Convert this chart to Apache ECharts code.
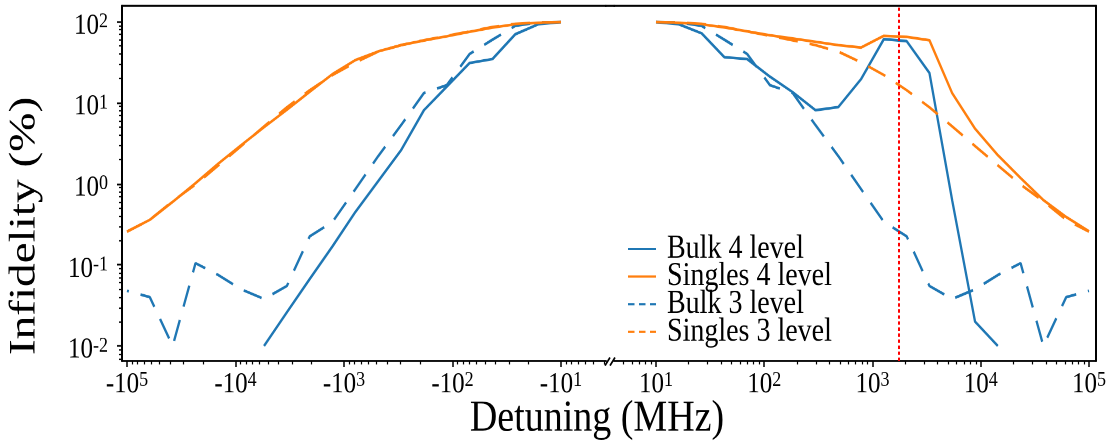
<!DOCTYPE html>
<html>
<head>
<meta charset="utf-8">
<script src="https://cdn.jsdelivr.net/npm/echarts@6.0.0/dist/echarts.min.js"></script>
<style>
  html, body { margin: 0; padding: 0; background: #fff; }
  #frame { width: 1112px; height: 448px; overflow: hidden; }
  /* the figure is laid out at 386px high and stretched to the full 448px */
  #chart { width: 1112px; height: 386px; transform: scaleY(1.16062); transform-origin: 0 0; }
</style>
</head>
<body>
<div id="frame"><div id="chart"></div></div>
<script>
// |detuning| in MHz, shared by the negative and the positive half
const detuningAbsMHz = [10, 16.24, 26.37, 42.81, 69.52, 112.9, 183.3, 297.6, 483.3, 784.8,
                        1274, 2069, 3360, 5456, 8859, 14384, 23357, 37927, 61585, 100000];

// infidelity in %, null where it rounds to zero
const bulk4Neg    = [99, 93, 70, 34.6, 31, 15.8, 8.1, 2.6, 1.08, 0.45, 0.17, 0.067, 0.026, 0.01,
                     null, null, null, null, null, null];
const bulk4Pos    = [99, 93, 72, 36.5, 34.6, 21, 13.5, 8.1, 8.85, 19.6, 61, 57.6, 23.3, 0.62,
                     0.02, 0.01, null, null, null, null];
const singles4Neg = [99, 97, 93, 84.6, 75, 66, 58.6, 51.5, 43, 33.6, 22.6, 13.7, 8.2, 5.0,
                     3.0, 1.78, 1.02, 0.6, 0.36, 0.257];
const singles4Pos = [99, 97, 93, 85, 76, 68, 62, 56.5, 51.4, 48, 67, 65, 59, 13.1,
                     4.8, 2.26, 1.18, 0.63, 0.39, 0.26];
// the 3-level results are symmetric in detuning
const bulk3       = [99, 98, 89, 60, 40, 16.5, 13.2, 5.3, 2.2, 0.86, 0.34, 0.225, 0.055, 0.038,
                     0.05, 0.075, 0.105, 0.01, 0.04, 0.048];
const singles3    = [99, 98, 94, 86, 76, 67, 59, 51.4, 42.8, 31.5, 22, 14.3, 8.8, 5.1,
                     2.93, 1.69, 0.98, 0.61, 0.36, 0.257];

const markerMHz = 1760;                         // red dotted reference detuning
const xTickMHz  = [10, 100, 1000, 10000, 100000];
const yTickPct  = [0.01, 0.1, 1, 10, 100];
const seriesNames = ['Bulk 4 level', 'Singles 4 level', 'Bulk 3 level', 'Singles 3 level'];

const FONT = "'Liberation Serif', 'Times New Roman', Times, serif";
const BLUE = '#1f77b4', ORANGE = '#ff7f0e';
const DASH = [19, 12];

const X_LEFT  = [Math.pow(10, 0.585), Math.pow(10, 5.046)];
const X_RIGHT = [Math.pow(10, 0.612), Math.pow(10, 5.065)];
const Y_EXT   = [Math.pow(10, -2.185), Math.pow(10, 2.196)];

function minorValues(ext, eLo, eHi) {
  const out = [];
  for (let e = eLo; e <= eHi; e++) {
    for (let m = 2; m <= 9; m++) {
      const v = m * Math.pow(10, e);
      if (v >= ext[0] && v <= ext[1]) out.push(v);
    }
  }
  return out;
}

const rich = {
  b: { fontFamily: FONT, fontSize: 25, lineHeight: 25, color: '#000' },
  s: { fontFamily: FONT, fontSize: 18, lineHeight: 17, verticalAlign: 'top', color: '#000' }
};
const powLabel = prefix => v => '{b|' + prefix + '10}{s|' + Math.round(Math.log10(v)) + '}';

function pairs(values) {
  const out = [];
  values.forEach((v, i) => { if (v !== null) out.push([detuningAbsMHz[i], v]); });
  return out;
}

function xAxes(gridIndex, ext, inverse, prefix) {
  const base = { type: 'log', logBase: 10, gridIndex, min: ext[0], max: ext[1], inverse,
                 splitLine: { show: false }, axisLine: { onZero: false } };
  return [
    Object.assign({}, base, {
      position: 'bottom',
      axisLine: { show: true, onZero: false, lineStyle: { color: '#000', width: 1.8 } },
      axisTick: { show: true, length: 5, customValues: xTickMHz, lineStyle: { color: '#000', width: 1.5 } },
      axisLabel: { show: true, customValues: xTickMHz, margin: 8, formatter: powLabel(prefix), rich }
    }),
    Object.assign({}, base, {
      position: 'bottom',
      axisLine: { show: false, onZero: false },
      axisTick: { show: true, length: 3, customValues: minorValues(ext, 0, 5), lineStyle: { color: '#000', width: 1.2 } },
      axisLabel: { show: false }
    }),
    Object.assign({}, base, {
      position: 'top',
      axisLine: { show: true, onZero: false, lineStyle: { color: '#000', width: 1.8 } },
      axisTick: { show: false }, axisLabel: { show: false }
    })
  ];
}

const yBase = { type: 'log', logBase: 10, min: Y_EXT[0], max: Y_EXT[1], splitLine: { show: false } };
const yAxes = [
  Object.assign({}, yBase, {
    gridIndex: 0, position: 'left',
    axisLine: { show: true, onZero: false, lineStyle: { color: '#000', width: 2 } },
    axisTick: { show: true, length: 5, customValues: yTickPct, lineStyle: { color: '#000', width: 1.5 } },
    axisLabel: { show: true, customValues: yTickPct, margin: 14, padding: [7, 0, 0, 0],
                 formatter: powLabel(''), rich }
  }),
  Object.assign({}, yBase, {
    gridIndex: 0, position: 'left',
    axisLine: { show: false, onZero: false },
    axisTick: { show: true, length: 3, customValues: minorValues(Y_EXT, -3, 2), lineStyle: { color: '#000', width: 1.2 } },
    axisLabel: { show: false }
  }),
  Object.assign({}, yBase, {
    gridIndex: 1, position: 'right',
    axisLine: { show: true, onZero: false, lineStyle: { color: '#000', width: 2 } },
    axisTick: { show: false }, axisLabel: { show: false }
  })
];

function lineSeries(name, values, color, dashed, xAxisIndex, yAxisIndex, extra) {
  return Object.assign({
    name, type: 'line', xAxisIndex, yAxisIndex, data: pairs(values),
    symbol: 'none', silent: true, animation: false,
    lineStyle: { color, width: 2.3, type: dashed ? DASH : 'solid', cap: 'butt' },
    itemStyle: { color }
  }, extra || {});
}

const series = [
  // negative detuning panel
  lineSeries(seriesNames[0], bulk4Neg, BLUE, false, 0, 0),
  lineSeries(seriesNames[1], singles4Neg, ORANGE, false, 0, 0),
  lineSeries(seriesNames[2], bulk3, BLUE, true, 0, 0),
  lineSeries(seriesNames[3], singles3, ORANGE, true, 0, 0),
  // positive detuning panel
  lineSeries(seriesNames[0], bulk4Pos, BLUE, false, 3, 2, {
    markLine: {
      silent: true, symbol: ['none', 'none'], label: { show: false }, animation: false,
      lineStyle: { color: '#ff0000', width: 2, type: [2.9, 2.3] },
      emphasis: { disabled: true },
      data: [{ xAxis: markerMHz }]
    }
  }),
  lineSeries(seriesNames[1], singles4Pos, ORANGE, false, 3, 2),
  lineSeries(seriesNames[2], bulk3, BLUE, true, 3, 2),
  lineSeries(seriesNames[3], singles3, ORANGE, true, 3, 2)
];

const chart = echarts.init(document.getElementById('chart'), null, { renderer: 'canvas', devicePixelRatio: 2 });
chart.setOption({
  animation: false,
  backgroundColor: '#fff',
  textStyle: { fontFamily: FONT, color: '#000' },
  grid: [
    { left: 122, top: 5, width: 484, height: 306, containLabel: false, outerBoundsMode: 'none' },
    { left: 614, top: 5, width: 482, height: 306, containLabel: false, outerBoundsMode: 'none' }
  ],
  xAxis: xAxes(0, X_LEFT, true, '-').concat(xAxes(1, X_RIGHT, false, '')),
  yAxis: yAxes,
  legend: {
    orient: 'vertical', left: 627, top: 200.5, padding: 0,
    itemWidth: 28, itemHeight: 2, itemGap: -4.2, selectedMode: false,
    itemStyle: { opacity: 0 },
    textStyle: { fontFamily: FONT, fontSize: 28, lineHeight: 24.2, color: '#000', padding: [0, 0, 0, 6] },
    data: [
      { name: seriesNames[0] },
      { name: seriesNames[1] },
      { name: seriesNames[2], lineStyle: { type: [6.5, 4.5] } },
      { name: seriesNames[3], lineStyle: { type: [6.5, 4.5] } }
    ]
  },
  graphic: [
    { type: 'text', x: 597, y: 361, silent: true,
      style: { text: 'Detuning (MHz)', fontFamily: FONT, fontSize: 38, fill: '#000',
               align: 'center', verticalAlign: 'middle' } },
    { type: 'text', x: 25, y: 194.7, rotation: Math.PI / 2, scaleX: 1.1, silent: true,
      style: { text: 'Infidelity (%)', fontFamily: FONT, fontSize: 37, fill: '#000',
               align: 'center', verticalAlign: 'middle' } },
    // top spine runs across the break
    { type: 'line', silent: true, shape: { x1: 605, y1: 5, x2: 615, y2: 5 },
      style: { stroke: '#000', lineWidth: 1.8 } },
    // break marks on the bottom spine
    { type: 'line', silent: true, shape: { x1: 605, y1: 315, x2: 610, y2: 308 },
      style: { stroke: '#000', lineWidth: 1.6 } },
    { type: 'line', silent: true, shape: { x1: 610, y1: 315, x2: 615, y2: 308 },
      style: { stroke: '#000', lineWidth: 1.6 } }
  ],
  series
});
</script>
</body>
</html>
